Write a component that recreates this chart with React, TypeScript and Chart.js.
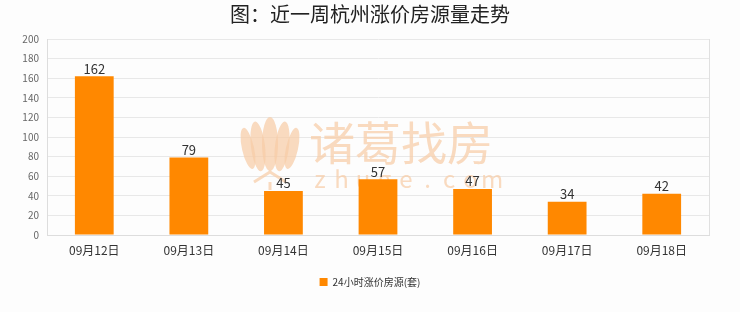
import React, { useEffect, useRef } from "react";
import { Chart, registerables } from "chart.js";

Chart.register(...registerables);

const categories = ["09月12日", "09月13日", "09月14日", "09月15日", "09月16日", "09月17日", "09月18日"];
const seriesValues = [162, 79, 45, 57, 47, 34, 42];
const seriesName = "24小时涨价房源(套)";
const titleText = "图：近一周杭州涨价房源量走势";
const yTicks = [0, 20, 40, 60, 80, 100, 120, 140, 160, 180, 200];

const CJK = '"Noto Sans CJK SC", "Noto Sans", sans-serif';

const bgPlugin = {
  id: "bg",
  beforeDraw(chart: any) {
    const { ctx, width, height } = chart;
    ctx.save();
    ctx.fillStyle = "#fdfdfd";
    ctx.fillRect(0, 0, width, height);
    ctx.restore();
  },
};

const watermarkPlugin = {
  id: "watermark",
  beforeDatasetsDraw(chart: any) {
    const { ctx, chartArea } = chart;
    const cx = (chartArea.left + chartArea.right) / 2;
    ctx.save();
    const col = "rgba(246, 204, 166, 0.72)";
    ctx.fillStyle = col;
    ctx.strokeStyle = col;
    // lotus logo
    const lx = cx - 108;
    const ly = 144;
    const petals = [
      { dx: 0, ry: 27, rx: 8, rot: 0 },
      { dx: -12, ry: 25, rx: 7, rot: -0.12 },
      { dx: 12, ry: 25, rx: 7, rot: 0.12 },
      { dx: -22, ry: 21, rx: 6, rot: -0.22 },
      { dx: 22, ry: 21, rx: 6, rot: 0.22 },
    ];
    petals.forEach((p) => {
      ctx.beginPath();
      ctx.ellipse(lx + p.dx, ly + Math.abs(p.dx) * 0.2, p.rx, p.ry, p.rot, 0, Math.PI * 2);
      ctx.fill();
    });
    ctx.lineWidth = 3;
    ctx.beginPath();
    ctx.moveTo(lx - 16, ly + 38);
    ctx.lineTo(lx, ly + 28);
    ctx.lineTo(lx + 16, ly + 38);
    ctx.stroke();
    ctx.beginPath();
    ctx.moveTo(lx, ly + 38);
    ctx.lineTo(lx, ly + 46);
    ctx.stroke();
    // text
    ctx.font = `46px ${CJK}`;
    ctx.textAlign = "left";
    ctx.textBaseline = "middle";
    ctx.fillText("诸葛找房", cx - 69, 143);
    ctx.font = `24px ${CJK}`;
    const letters = "zhuge.com".split("");
    letters.forEach((ch, i) => {
      ctx.textAlign = "center";
      ctx.fillText(ch, cx - 58 + i * 21.5, 179);
    });
    ctx.restore();
  },
};

const labelsPlugin = {
  id: "valueLabels",
  afterDatasetsDraw(chart: any) {
    const { ctx, chartArea } = chart;
    ctx.save();
    // right border of plot area
    ctx.strokeStyle = "#e0e0e0";
    ctx.lineWidth = 1;
    ctx.beginPath();
    ctx.moveTo(Math.round(chartArea.right) + 0.5, chartArea.top);
    ctx.lineTo(Math.round(chartArea.right) + 0.5, chartArea.bottom);
    ctx.stroke();
    const meta = chart.getDatasetMeta(0);
    ctx.font = `13px ${CJK}`;
    ctx.fillStyle = "#333333";
    ctx.textAlign = "center";
    ctx.textBaseline = "bottom";
    meta.data.forEach((bar: any, i: number) => {
      ctx.fillText(String(seriesValues[i]), bar.x, bar.y - 1);
    });
    ctx.restore();
  },
};

export default function App() {
  const ref = useRef<HTMLCanvasElement | null>(null);
  useEffect(() => {
    document.body.style.margin = "0";
    const chart = new Chart(ref.current as HTMLCanvasElement, {
      type: "bar",
      data: {
        labels: categories,
        datasets: [
          {
            label: seriesName,
            data: seriesValues,
            backgroundColor: "#ff8800",
            borderColor: "#ffa64d",
            borderWidth: 0,
            categoryPercentage: 1,
            barPercentage: 0.41,
          },
        ],
      },
      options: {
        animation: false,
        responsive: false,
        maintainAspectRatio: false,
        layout: { padding: { left: 0, right: 0, top: 0, bottom: 15 } },
        plugins: {
          title: {
            display: true,
            text: titleText,
            color: "#222222",
            font: { size: 20, family: CJK, weight: "normal" },
            padding: { top: 2, bottom: 13 },
          },
          legend: {
            display: true,
            position: "bottom",
            labels: {
              color: "#333333",
              font: { size: 10, family: CJK },
              boxWidth: 8,
              boxHeight: 8,
              padding: 12,
            },
          },
          tooltip: { enabled: false },
        },
        scales: {
          x: {
            grid: { display: false, drawTicks: false },
            border: { color: "#dddddd" },
            ticks: { color: "#333333", font: { size: 12, family: CJK }, padding: 8, maxRotation: 0 },
            afterFit(scale: any) {
              scale.height = 30;
            },
          },
          y: {
            min: 0,
            max: 200,
            afterBuildTicks(scale: any) {
              scale.ticks = yTicks.map((v) => ({ value: v }));
            },
            grid: { color: "#e8e8e8", drawTicks: false },
            border: { color: "#dddddd" },
            ticks: { color: "#666666", font: { size: 10, family: CJK }, padding: 8 },
            afterFit(scale: any) {
              scale.width = 47;
            },
          },
          yRight: {
            type: "linear",
            position: "right",
            min: 0,
            max: 200,
            grid: { display: false, drawTicks: false },
            border: { display: false },
            ticks: { display: false },
            afterFit(scale: any) {
              scale.width = 31;
            },
          },
        },
      },
      plugins: [bgPlugin, watermarkPlugin, labelsPlugin],
    });
    return () => chart.destroy();
  }, []);
  return (
    <div style={{ position: "absolute", left: 0, top: 0, width: 740, height: 312 }}>
      <canvas ref={ref} width={740} height={312} style={{ width: 740, height: 312 }} />
    </div>
  );
}
